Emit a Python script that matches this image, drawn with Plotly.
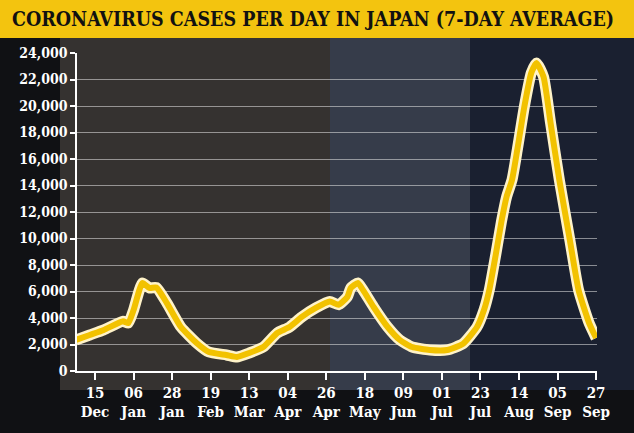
import plotly.graph_objects as go

dates = ["2020-12-04", "2020-12-12", "2020-12-20", "2020-12-31", "2021-01-03", "2021-01-06",
         "2021-01-11", "2021-01-15", "2021-01-19", "2021-01-25", "2021-02-02", "2021-02-11",
         "2021-02-18", "2021-02-28", "2021-03-06", "2021-03-13", "2021-03-21", "2021-03-29",
         "2021-04-05", "2021-04-12", "2021-04-20", "2021-04-28", "2021-05-03", "2021-05-08",
         "2021-05-10", "2021-05-14", "2021-05-17", "2021-05-23", "2021-05-31", "2021-06-07",
         "2021-06-14", "2021-06-24", "2021-07-04", "2021-07-13", "2021-07-21", "2021-07-25",
         "2021-07-28", "2021-08-01", "2021-08-04", "2021-08-07", "2021-08-10", "2021-08-13",
         "2021-08-17", "2021-08-21", "2021-08-24", "2021-08-28", "2021-09-01", "2021-09-06",
         "2021-09-12", "2021-09-17", "2021-09-23", "2021-09-27"]
cases = [2340, 2720, 3100, 3750, 3620, 4600,
         6640, 6270, 6300, 5130, 3320, 2110,
         1430, 1210, 1060, 1360, 1810, 2870,
         3320, 4080, 4760, 5250, 5000, 5590,
         6270, 6640, 6100, 4830, 3320, 2340,
         1810, 1590, 1590, 2050, 3320, 4600,
         6100, 9000, 11300, 13200, 14420, 16690,
         19930, 22500, 23250, 22200, 18720, 14420,
         9890, 6100, 3620, 2490]

tick_dates = ["2020-12-15", "2021-01-06", "2021-01-28", "2021-02-19", "2021-03-13", "2021-04-04",
              "2021-04-26", "2021-05-18", "2021-06-09", "2021-07-01", "2021-07-23", "2021-08-14",
              "2021-09-05", "2021-09-27"]
tick_days = ["15", "06", "28", "19", "13", "04", "26", "18", "09", "01", "23", "14", "05", "27"]
tick_months = ["Dec", "Jan", "Jan", "Feb", "Mar", "Apr", "Apr", "May", "Jun", "Jul", "Jul", "Aug", "Sep", "Sep"]
y_ticks = list(range(0, 24001, 2000))

title = "CORONAVIRUS CASES PER DAY IN JAPAN (7-DAY AVERAGE)"

fig = go.Figure()
fig.add_trace(go.Scatter(x=dates, y=cases, mode="lines",
                         line=dict(color="#FFF3C8", width=11, shape="spline", smoothing=0.5),
                         hoverinfo="skip", showlegend=False, cliponaxis=False))
fig.add_trace(go.Scatter(x=dates, y=cases, mode="lines",
                         line=dict(color="#F2C200", width=6, shape="spline", smoothing=0.5),
                         showlegend=False, cliponaxis=False))

W, H = 634, 433
ml, mr, mt, mb = 77, 37, 53, 62
pw, ph = W - ml - mr, H - mt - mb

def px_x(px):
    return (px - ml) / pw

def px_y(py):
    return (H - mb - py) / ph

shapes = [
    dict(type="rect", xref="paper", yref="paper", x0=px_x(0), x1=px_x(W), y0=px_y(H), y1=px_y(0),
         fillcolor="#101114", line_width=0, layer="below"),
    dict(type="rect", xref="paper", yref="paper", x0=px_x(60), x1=px_x(330), y0=px_y(390), y1=px_y(38),
         fillcolor="#3a3633", line_width=0, layer="below", opacity=0.9),
    dict(type="rect", xref="paper", yref="paper", x0=px_x(330), x1=px_x(470), y0=px_y(390), y1=px_y(38),
         fillcolor="#3b4150", line_width=0, layer="below", opacity=0.9),
    dict(type="rect", xref="paper", yref="paper", x0=px_x(470), x1=px_x(634), y0=px_y(390), y1=px_y(38),
         fillcolor="#1c2233", line_width=0, layer="below", opacity=0.9),
    dict(type="rect", xref="paper", yref="paper", x0=px_x(0), x1=px_x(W), y0=px_y(38), y1=px_y(0),
         fillcolor="#F3C40F", line_width=0, layer="above"),
]

fig.update_layout(
    width=W, height=H,
    margin=dict(l=ml, r=mr, t=mt, b=mb, autoexpand=False),
    paper_bgcolor="#101114",
    plot_bgcolor="rgba(0,0,0,0)",
    shapes=shapes,
    annotations=[dict(text="<b>" + title + "</b>", xref="paper", yref="paper",
                      x=px_x(10), y=px_y(20), xanchor="left", yanchor="middle",
                      showarrow=False,
                      font=dict(family="DejaVu Serif Condensed, DejaVu Serif", size=19.5, color="#111111"))],
    xaxis=dict(
        type="date",
        automargin=False,
        range=["2020-12-04 17:00", "2021-09-27 12:00"],
        tickmode="array",
        tickvals=tick_dates,
        ticktext=["<b>" + d + "<br>" + m + "</b>" for d, m in zip(tick_days, tick_months)],
        ticks="outside", ticklen=7, tickcolor="#ffffff", tickwidth=1.5,
        showline=True, linecolor="#ffffff", linewidth=1.5,
        showgrid=False, zeroline=False,
        tickfont=dict(family="DejaVu Serif Condensed, DejaVu Serif", size=15, color="#ffffff"),
        fixedrange=True,
    ),
    yaxis=dict(
        automargin=False,
        range=[0, 24000],
        tickmode="array",
        tickvals=y_ticks,
        ticktext=["<b>" + f"{v:,}" + "</b>" for v in y_ticks],
        ticks="outside", ticklen=5, tickcolor="#ffffff", tickwidth=1.5,
        showline=True, linecolor="#ffffff", linewidth=1.5,
        showgrid=True, gridcolor="rgba(230,230,230,0.55)", gridwidth=1,
        zeroline=False,
        tickfont=dict(family="DejaVu Serif Condensed, DejaVu Serif", size=14, color="#ffffff"),
        fixedrange=True,
    ),
)

fig.write_html("out.html",
               config={"displayModeBar": False},
               post_script="document.body.style.margin='0px';document.body.style.background='#101114';")
